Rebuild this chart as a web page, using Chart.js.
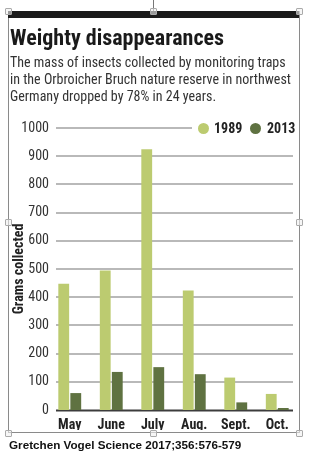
<!DOCTYPE html>
<html>
<head>
<meta charset="utf-8">
<script src="https://cdn.jsdelivr.net/npm/chart.js@4"></script>
<style>
  html, body { margin: 0; padding: 0; background: #fff; }
  body { width: 321px; height: 471px; position: relative; overflow: hidden;
         font-family: "Roboto Condensed", "DejaVu Sans Condensed", sans-serif; }
  #wrap { position: absolute; left: 0; top: 0; width: 321px; height: 471px; }
  .frame { position: absolute; left: 8px; top: 11px; width: 290px; height: 421px;
           border: 1px solid #8a8a8a; border-top: none; box-sizing: content-box; }
  .topbar { position: absolute; left: 8px; top: 11px; width: 291px; height: 7px; background: #1a1a1a; }
  .stem { position: absolute; left: 153px; top: 0; width: 1px; height: 11px; background: #777; }
  .handle { position: absolute; width: 5px; height: 5px; border: 1px solid #aaa; background: rgba(240,240,240,0.6);
            margin-left: -3px; margin-top: -3px; border-radius: 1px; }
  h1 { position: absolute; left: 10px; top: 25px; margin: 0; font-size: 22px; font-weight: bold;
       color: #1a1a1a; line-height: 26px; white-space: nowrap; }
  .sub { position: absolute; left: 10px; top: 54px; margin: 0; font-size: 14px; line-height: 17px;
         color: #333; white-space: nowrap; }
  .legend { position: absolute; left: 192px; top: 120px; width: 104px; height: 17px; background: #fff;
            font-weight: bold; font-size: 14px; color: #222; }
  .legend span.dot { position: absolute; top: 3px; width: 11px; height: 11px; border-radius: 50%; }
  .legend span.lab { position: absolute; top: 0; line-height: 17px; }
  .foot { position: absolute; left: 9px; top: 438px; font-family: "Liberation Sans", Arial, sans-serif;
          font-weight: bold; font-size: 11.7px; color: #111; white-space: nowrap; }
</style>
</head>
<body>
<div id="wrap"><canvas id="c" width="321" height="471"></canvas></div>
<div class="stem"></div>
<div class="frame"></div>
<div class="topbar"></div>
<h1>Weighty disappearances</h1>
<p class="sub">The mass of insects collected by monitoring traps<br>in the Orbroicher Bruch nature reserve in northwest<br>Germany dropped by 78% in 24 years.</p>
<div class="legend" id="legend"></div>
<div class="foot">Gretchen Vogel Science 2017;356:576-579</div>
<div class="handle" style="left:8px;top:11px"></div>
<div class="handle" style="left:153px;top:11px"></div>
<div class="handle" style="left:299px;top:11px"></div>
<div class="handle" style="left:8px;top:222px"></div>
<div class="handle" style="left:299px;top:222px"></div>
<div class="handle" style="left:8px;top:433px"></div>
<div class="handle" style="left:153px;top:433px"></div>
<div class="handle" style="left:299px;top:433px"></div>
<script>
// data (grams collected)
const months = ["May", "June", "July", "Aug.", "Sept.", "Oct."];
const grams1989 = [448, 495, 925, 424, 115, 57];
const grams2013 = [60, 135, 152, 127, 27, 7];
const seriesNames = ["1989", "2013"];
const seriesColors = ["#bccb70", "#5f7241"];

const condensed = '"Roboto Condensed", "DejaVu Sans Condensed", sans-serif';

// legend sits over the top gridline, so it's plain html
const legend = document.getElementById("legend");
const legendPos = [{ dot: 6, lab: 22 }, { dot: 58, lab: 75 }];
seriesNames.forEach((name, i) => {
  legend.insertAdjacentHTML("beforeend",
    `<span class="dot" style="left:${legendPos[i].dot}px;background:${seriesColors[i]}"></span>` +
    `<span class="lab" style="left:${legendPos[i].lab}px">${name}</span>`);
});

// gridlines stop short of the category band on both sides
const shortGrid = {
  id: "shortGrid",
  beforeDatasetsDraw(chart) {
    const { ctx, chartArea } = chart;
    const y = chart.scales.y;
    const x0 = chartArea.left + 7, x1 = chartArea.right - 5;
    ctx.save();
    y.ticks.forEach(t => {
      const py = Math.round(y.getPixelForValue(t.value));
      ctx.beginPath();
      if (t.value === 0) {
        ctx.strokeStyle = "#3c3c3c";
        ctx.lineWidth = 2;
        ctx.moveTo(x0, py + 0.5); ctx.lineTo(x1, py + 0.5);
      } else {
        ctx.strokeStyle = "#a2a2a2";
        ctx.lineWidth = 1.5;
        ctx.moveTo(x0, py); ctx.lineTo(x1, py);
      }
      ctx.stroke();
    });
    ctx.restore();
  }
};

new Chart(document.getElementById("c"), {
  type: "bar",
  data: {
    labels: months,
    datasets: [
      { label: seriesNames[0], data: grams1989, backgroundColor: seriesColors[0] },
      { label: seriesNames[1], data: grams2013, backgroundColor: seriesColors[1] },
    ],
  },
  options: {
    responsive: false,
    animation: false,
    devicePixelRatio: 1,
    layout: { padding: { left: 10, right: 23, top: 128, bottom: 41 } },
    datasets: { bar: { categoryPercentage: 0.58, barPercentage: 0.9 } },
    plugins: { legend: { display: false }, tooltip: { enabled: false } },
    scales: {
      x: {
        grid: { display: false, drawTicks: false },
        border: { display: false },
        ticks: {
          color: "#222", padding: 7, maxRotation: 0, minRotation: 0, autoSkip: false,
          font: { family: condensed, size: 14, weight: "bold" },
        },
        afterFit: s => { s.height = 20; },
      },
      y: {
        min: 0,
        max: 1000,
        ticks: {
          stepSize: 100, color: "#333", padding: 0,
          font: { family: condensed, size: 14 },
          callback: v => String(v),
        },
        grid: { display: false, drawTicks: false },
        border: { display: false },
        title: {
          display: true,
          text: "Grams collected",
          color: "#222",
          padding: { top: 1, bottom: 0 },
          font: { family: condensed, size: 14, weight: "bold" },
        },
        afterFit: s => { s.width = 39; },
      },
    },
  },
  plugins: [shortGrid],
});
</script>
</body>
</html>
